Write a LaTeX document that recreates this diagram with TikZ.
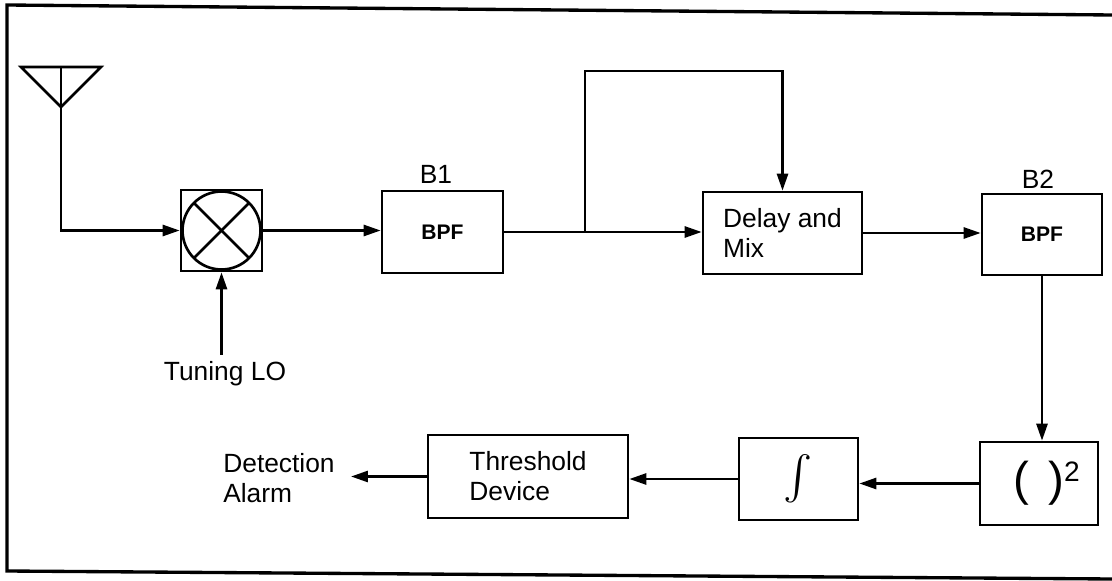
\documentclass[tikz,border=0pt]{standalone}
\usepackage{fontspec}
\setmainfont{Liberation Sans}
\usepackage{amsmath}
\usetikzlibrary{arrows.meta,positioning}

\begin{document}
\begin{tikzpicture}[x=0.02cm,y=-0.02cm,line width=1.5pt,
        font=\fontsize{15}{17}\selectfont,
        blk/.style={draw,rectangle,minimum height=1.64cm,inner sep=0pt},
        bpf/.style={blk,minimum width=2.42cm,font=\bfseries\fontsize{12}{14}\selectfont},
        sig/.style={-{Triangle[length=0.34cm,width=0.22cm]}}]
        \useasboundingbox (0,0) rectangle (1112,581);
        % frame
        \draw[line width=1.9pt] (1112,15) -- (7,5) -- (7,571) -- (1112,579);
        % antenna
        \coordinate (ant) at (61,67);
        \draw (21,67) -- (101,67) -- (61,107) -- cycle;
        % upper row
        \node[blk,minimum width=1.62cm,minimum height=1.62cm] (mix) at (221.5,230.5) {};
        \draw (mix.center) circle[radius=0.78cm];
        \draw (mix.center) ++(45:0.78cm) -- ++(225:1.56cm);
        \draw (mix.center) ++(135:0.78cm) -- ++(-45:1.56cm);
        \node (tune) at (225,374) {Tuning LO};
        \node[bpf] (b1) at (442.5,232) {BPF};
        \node (b1lab) at (436,174) {B1};
        \node[blk,minimum width=3.18cm,align=left] (dly) at (782.5,233) {Delay and\\Mix};
        \node[bpf,minimum width=2.4cm,minimum height=1.62cm] (b2) at (1042,234.5) {BPF};
        \node (b2lab) at (1038,179) {B2};
        % lower row
        \node[blk,minimum width=2.36cm,minimum height=1.66cm] (sq) at (1039,483.5)
            {\hspace*{0.3cm}{\fontsize{27}{29}\selectfont(\hspace{11pt})}\raisebox{8pt}{\fontsize{16}{16}\selectfont 2}};
        \node[blk,minimum width=2.38cm] (int) at (798.5,479) {\fontsize{27}{29}\selectfont$\int$};
        \node[blk,minimum width=4cm,minimum height=1.66cm,align=left] (thr) at (528,476.5) {Threshold\\Device};
        \node[align=left,anchor=west,inner sep=0pt] (alarm) at (222,478) {Detection\\Alarm};
        % connectors
        \coordinate (loop) at (585,71);
        \coordinate (tap) at (b1.east -| loop);
        \draw[sig] (ant) |- (mix.west);
        \draw[sig] (mix.south |- tune.north) -- (mix.south);
        \draw[sig] (mix.east) -- (mix.east -| b1.west);
        \draw[sig] (b1.east) -- (b1.east -| dly.west);
        \draw[sig] (tap) -- (loop) -| (dly.north);
        \draw[sig] (dly.east) -- (dly.east -| b2.west);
        \draw[sig] (b2.south) -- (b2.south |- sq.north);
        \draw[sig] (sq.west) -- (sq.west -| int.east);
        \draw[sig] (int.west) -- (int.west -| thr.east);
        \draw[sig,shorten >=0.3cm] (thr.west) -- (thr.west -| alarm.east);
\end{tikzpicture}
\end{document}
